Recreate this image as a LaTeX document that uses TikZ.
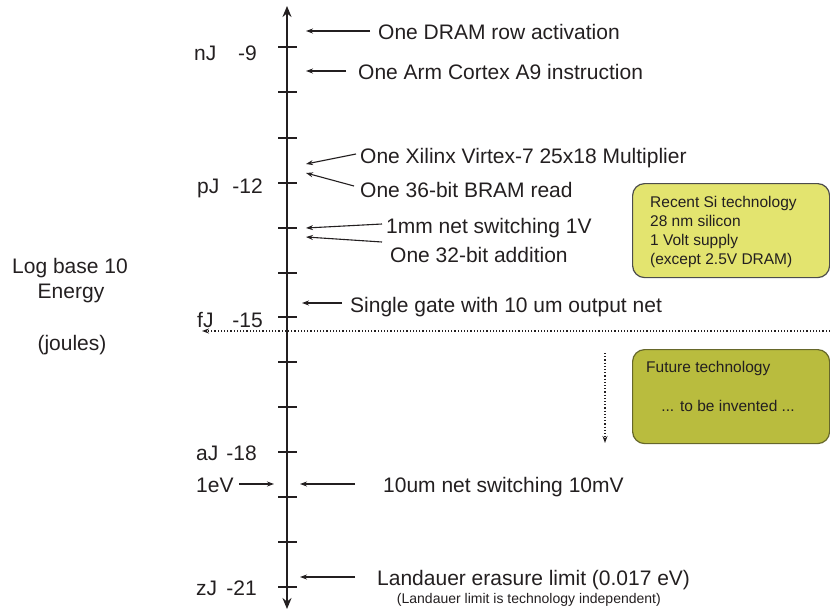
\documentclass[tikz,border=0pt]{standalone}
\usepackage{fontspec}
\setmainfont{Liberation Sans}
\usetikzlibrary{arrows.meta}
\definecolor{txt}{HTML}{231F20}
\definecolor{siyel}{HTML}{E3E46F}
\definecolor{futol}{HTML}{B9BC3E}
\definecolor{futbd}{HTML}{66672A}
\tikzset{
  big/.style={font=\fontsize{21}{25}\selectfont, text=txt, inner sep=0pt},
  mid/.style={font=\fontsize{15.5}{19.5}\selectfont, text=txt, inner sep=0pt},
  tiny/.style={font=\fontsize{14}{17}\selectfont, text=txt, inner sep=0pt},
  ptr/.style={-{Stealth[length=7pt,width=5pt]}, line width=1.1pt, draw=txt},
  tickmark/.style={line width=1.3pt, draw=txt},
  dotline/.style={dotted, line width=1.2pt, draw=txt, -{Stealth[length=7pt,width=5pt]}},
  boxstyle/.style={rounded corners=12pt, line width=1.2pt}
}
\begin{document}
\begin{tikzpicture}[x=1pt,y=-1pt]
\useasboundingbox (0,0) rectangle (830,610);
\clip (0,0) rectangle (830,610);
% axis
\coordinate (atop) at (287,6);
\coordinate (abot) at (287,609);
\draw[line width=2.4pt, draw=txt, {Stealth[length=11pt,width=9pt]}-{Stealth[length=11pt,width=9pt]}] (abot) -- (atop);
% ticks
\foreach \yy in {47,92,138,183,228,273,317,362,407,452,497,542,587}
  \draw[tickmark] (278,\yy) -- (297,\yy);
% left labels
\node[big, anchor=base] (l1) at (70,273) {Log base 10};
\node[big, anchor=base] (l2) at (71,298) {Energy};
\node[big, anchor=base] (l3) at (72,350) {(joules)};
\node[big, anchor=base west] (nj) at (194,60) {nJ};
\node[big, anchor=base east] (n9) at (257,60) {-9};
\node[big, anchor=base west] (pj) at (197,193) {pJ};
\node[big, anchor=base east] (n12) at (263,193) {-12};
\node[big, anchor=base west] (fj) at (197,327) {fJ};
\node[big, anchor=base east] (n15) at (263,327) {-15};
\node[big, anchor=base west] (aj) at (196,460) {aJ};
\node[big, anchor=base east] (n18) at (257,460) {-18};
\node[big, anchor=base west] (ev) at (196,492) {1eV};
\node[big, anchor=base west] (zj) at (196,595) {zJ};
\node[big, anchor=base east] (n21) at (257,595) {-21};
\coordinate (evs) at (239,484);
\coordinate (evt) at (274,484);
\draw[ptr] (evs) -- (evt);
% right labels
\node[big, anchor=base west] (t1) at (378,40) {One DRAM row activation};
\coordinate (p1) at (306,31);
\draw[ptr] (370,31) coordinate (s1) -- (p1);
\node[big, anchor=base west] (t2) at (358,80) {One Arm Cortex A9 instruction};
\coordinate (p2) at (306,71);
\draw[ptr] (346,71) coordinate (s2) -- (p2);
\node[big, anchor=base west] (t3) at (360,163) {One Xilinx Virtex-7 25x18 Multiplier};
\coordinate (p3) at (306,164);
\draw[ptr] (356,154) coordinate (s3) -- (p3);
\node[big, anchor=base west] (t4) at (360,197) {One 36-bit BRAM read};
\coordinate (p4) at (306,173);
\draw[ptr] (354,186) coordinate (s4) -- (p4);
\node[big, anchor=base west] (t5) at (386,233) {1mm net switching 1V};
\coordinate (p5) at (306,228);
\draw[ptr] (382,224) coordinate (s5) -- (p5);
\node[big, anchor=base west] (t6) at (390,262) {One 32-bit addition};
\coordinate (p6) at (306,237);
\draw[ptr] (382,242) coordinate (s6) -- (p6);
\node[big, anchor=base west] (t7) at (350,312) {Single gate with 10 um output net};
\coordinate (p7) at (302,303);
\draw[ptr] (342,303) coordinate (s7) -- (p7);
\node[big, anchor=base west] (t8) at (383,492) {10um net switching 10mV};
\coordinate (p8) at (300,484);
\draw[ptr] (355,484) coordinate (s8) -- (p8);
\node[big, anchor=base west] (t9) at (377,585) {Landauer erasure limit (0.017 eV)};
\coordinate (p9) at (300,577);
\draw[ptr] (355,577) coordinate (s9) -- (p9);
\node[tiny, anchor=base east] (t10) at (661,603) {(Landauer limit is technology independent)};
% dotted horizontal line
\coordinate (hr) at (830,331);
\coordinate (hl) at (202,331);
\draw[dotline] (hr) -- (hl);
% boxes
\node[boxstyle, draw=black!70, fill=siyel, minimum width=197pt, minimum height=94pt, anchor=north west] (bsi) at (632,183) {};
\node[mid, anchor=base west] (bsa) at (650,207) {Recent Si technology};
\node[mid, anchor=base west] (bsb) at (650,226) {28 nm silicon};
\node[mid, anchor=base west] (bsc) at (650,245) {1 Volt supply};
\node[mid, anchor=base west] (bsd) at (650,264) {(except 2.5V DRAM)};
\node[boxstyle, draw=futbd, fill=futol, minimum width=197pt, minimum height=94pt, anchor=north west] (bft) at (632,349) {};
\node[mid, anchor=base west] (bft1) at (646,372) {Future technology};
\node[mid, anchor=base] (bft2) at (728,411) {... to be invented ...};
% dotted vertical arrow
\coordinate (vt) at (605,353);
\coordinate (vb) at (605,443);
\draw[dotline] (vt) -- (vb);
\end{tikzpicture}
\end{document}
